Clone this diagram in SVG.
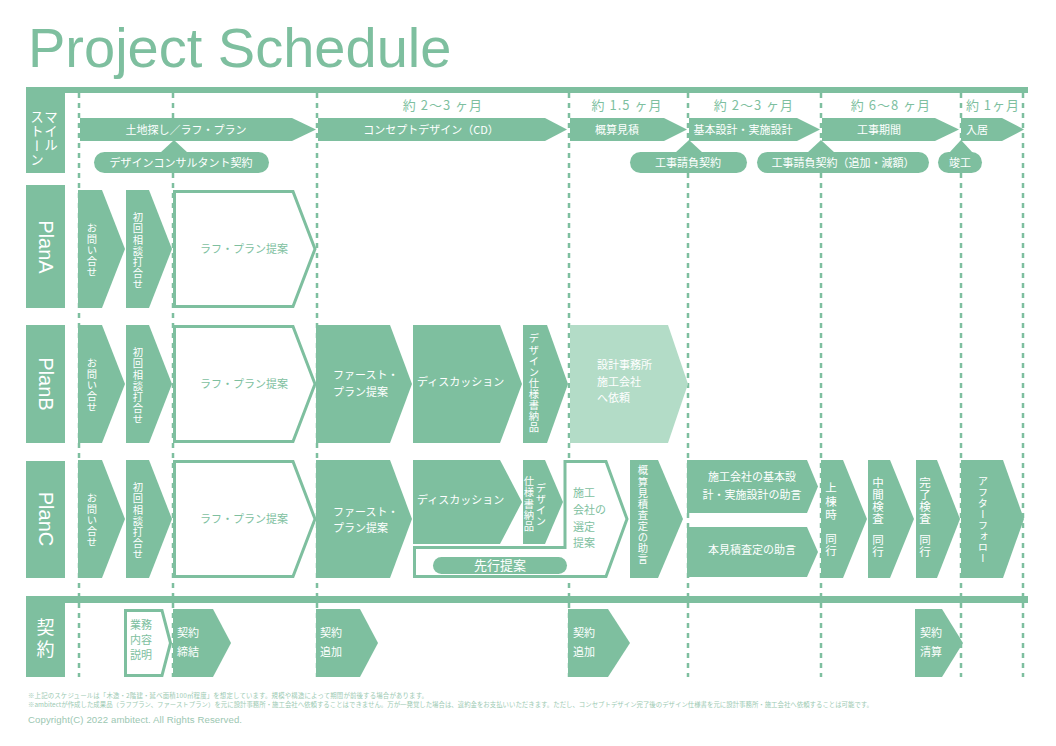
<svg xmlns="http://www.w3.org/2000/svg" width="1056" height="746" viewBox="0 0 1056 746">
<style>
.g{fill:#7ebf9f}
.l{fill:#b3dcc7}
.o{fill:#fff;stroke:#7ebf9f;stroke-width:3}
.d{stroke:#7ebf9f;stroke-width:2.5;stroke-dasharray:5 5;fill:none}
text{font-family:"Noto Sans CJK JP","Noto Sans CJK SC",sans-serif;font-size:11px}
.w{fill:#fff}
.t{fill:#7ebf9f}
.c{text-anchor:middle}
.v{writing-mode:vertical-rl;text-anchor:middle;font-size:10.3px}
.vb{writing-mode:vertical-rl;text-anchor:middle;font-size:11.5px}
.h{fill:#7ebf9f;font-size:13px;letter-spacing:1px;text-anchor:middle}
.lat{font-family:"Liberation Sans",Arial,sans-serif;font-size:20px;fill:#fff;text-anchor:middle;dominant-baseline:central}
.f{fill:#9ccab3;font-size:6.4px}
</style>
<rect width="1056" height="746" fill="#fff"/>
<text x="28" y="67" style="font-family:'Liberation Sans',Arial,sans-serif;font-size:56px" class="t">Project Schedule</text>

<g id="connectors">
<line class="d" x1="79" y1="93" x2="79" y2="677"/>
<line class="d" x1="173" y1="93" x2="173" y2="677"/>
<line class="d" x1="317" y1="93" x2="317" y2="677"/>
<line class="d" x1="569" y1="93" x2="569" y2="677"/>
<line class="d" x1="688" y1="93" x2="688" y2="677"/>
<line class="d" x1="821" y1="93" x2="821" y2="677"/>
<line class="d" x1="961" y1="93" x2="961" y2="677"/>
<line class="d" x1="1023" y1="93" x2="1023" y2="677"/>
</g>

<g id="frame">
<rect class="g" x="26" y="87" width="1002" height="6"/>
<rect class="g" x="26" y="596" width="1002" height="7"/>
</g>

<g id="label-milestone">
<rect class="g" x="26" y="87" width="39" height="86"/>
<text class="vb w" x="51" y="117 131 145" style="font-size:13.5px">マイル</text>
<text class="vb w" x="37" y="117 131 146 160" style="font-size:13.5px">ストーン</text>
</g>
<g id="label-planA"><rect class="g" x="26" y="185" width="39" height="123"/><text class="lat" transform="translate(45.5,247) rotate(90)">PlanA</text></g>
<g id="label-planB"><rect class="g" x="26" y="325" width="39" height="118"/><text class="lat" transform="translate(45.5,384) rotate(90)">PlanB</text></g>
<g id="label-planC"><rect class="g" x="26" y="461" width="39" height="117"/><text class="lat" transform="translate(45.5,519) rotate(90)">PlanC</text></g>
<g id="label-contract"><rect class="g" x="26" y="596" width="39" height="81"/><text class="vb w" x="45.5" y="627 649" style="font-size:18px">契約</text></g>

<g id="durations">
<text class="h" x="443" y="110">約 2〜3 ヶ月</text>
<text class="h" x="627" y="110">約 1.5 ヶ月</text>
<text class="h" x="754" y="110">約 2〜3 ヶ月</text>
<text class="h" x="891" y="110">約 6〜8 ヶ月</text>
<text class="h" x="993" y="110">約 1ヶ月</text>
</g>

<g id="ms-1"><path class="g" d="M80,118H292L316,129.5L292,141H80Z"/><text class="w c" x="186" y="133.5">土地探し／ラフ・プラン</text></g>
<g id="ms-2"><path class="g" d="M318,118H545L567,129.5L545,141H318Z"/><text class="w c" x="431" y="133.5">コンセプトデザイン（CD）</text></g>
<g id="ms-3"><path class="g" d="M570,118H664L687,129.5L664,141H570Z"/><text class="w c" x="617" y="133.5">概算見積</text></g>
<g id="ms-4"><path class="g" d="M689,118H797L820,129.5L797,141H689Z"/><text class="w c" x="743" y="133.5">基本設計・実施設計</text></g>
<g id="ms-5"><path class="g" d="M822,118H935L959,129.5L935,141H822Z"/><text class="w c" x="879" y="133.5">工事期間</text></g>
<g id="ms-6"><path class="g" d="M961,118H1002L1024,129.5L1002,141H961Z"/><text class="w c" x="977" y="133.5">入居</text></g>

<g id="pill-1"><path class="g" d="M160,153L174,140L188,153Z"/><rect class="g" x="94" y="152" width="175" height="21" rx="10.5"/><text class="w c" x="181" y="166.5">デザインコンサルタント契約</text></g>
<g id="pill-2"><path class="g" d="M675,153L689,140L703,153Z"/><rect class="g" x="630" y="152" width="117" height="21" rx="10.5"/><text class="w c" x="688" y="166.5">工事請負契約</text></g>
<g id="pill-3"><path class="g" d="M807,153L821,140L835,153Z"/><rect class="g" x="757" y="152" width="172" height="21" rx="10.5"/><text class="w c" x="843" y="166.5">工事請負契約（追加・減額）</text></g>
<g id="pill-4"><path class="g" d="M949,153L961,140L973,153Z"/><rect class="g" x="938" y="152" width="44" height="21" rx="10.5"/><text class="w c" x="960" y="166.5">竣工</text></g>

<!-- Plan A -->
<g id="a-1"><path class="g" d="M78,190H102L125,249L102,308H78Z"/><text class="v w" x="92" y="228.5 239.5 250.5 261.5 272.5">お問い合せ</text></g>
<g id="a-2"><path class="g" d="M126,190H149L172,249L149,308H126Z"/><text class="v w" x="138" y="217.5 228.5 240 251 262 273.5 284.5">初回相談打合せ</text></g>
<g id="a-3"><path class="o" d="M174.5,191.5H293L315,249L293,306.5H174.5Z"/><text class="t c" x="244" y="253">ラフ・プラン提案</text></g>

<!-- Plan B -->
<g id="b-1"><path class="g" d="M78,325H102L125,384L102,443H78Z"/><text class="v w" x="92" y="363.5 374.5 385.5 396.5 407.5">お問い合せ</text></g>
<g id="b-2"><path class="g" d="M126,325H149L172,384L149,443H126Z"/><text class="v w" x="138" y="352.5 363.5 375 386 397 408.5 419.5">初回相談打合せ</text></g>
<g id="b-3"><path class="o" d="M174.5,326.5H293L315,384L293,441.5H174.5Z"/><text class="t c" x="244" y="388">ラフ・プラン提案</text></g>
<g id="b-4"><path class="g" d="M316,325H390L412,384L390,443H316Z"/><text class="w" x="333" y="379">ファースト・</text><text class="w" x="333" y="396">プラン提案</text></g>
<g id="b-5"><path class="g" d="M413,325H500L522,384L500,443H413Z"/><text class="w" x="417" y="386">ディスカッション</text></g>
<g id="b-6"><path class="g" d="M523,325H547L568,384L547,443H523Z"/><text class="v w" x="534" y="338.5 349.6 360.7 371.8 382.9 394 405.1 416.2 427.3">デザイン仕様書納品</text></g>
<g id="b-7"><path class="l" d="M570,325H668L688,384L668,443H570Z"/><text class="w" x="597" y="369">設計事務所</text><text class="w" x="597" y="386">施工会社</text><text class="w" x="597" y="402">へ依頼</text></g>

<!-- Plan C -->
<g id="c-1"><path class="g" d="M78,460H102L125,519L102,578H78Z"/><text class="v w" x="92" y="498.5 509.5 520.5 531.5 542.5">お問い合せ</text></g>
<g id="c-2"><path class="g" d="M126,460H149L172,519L149,578H126Z"/><text class="v w" x="138" y="487.5 498.5 510 521 532 543.5 554.5">初回相談打合せ</text></g>
<g id="c-3"><path class="o" d="M174.5,461.5H293L315,519L293,576.5H174.5Z"/><text class="t c" x="244" y="523">ラフ・プラン提案</text></g>
<g id="c-4"><path class="g" d="M316,460H390L412,519L390,578H316Z"/><text class="w" x="333" y="516">ファースト・</text><text class="w" x="333" y="532">プラン提案</text></g>
<g id="c-5"><path class="g" d="M413,460H500L522,502L500,544H413Z"/><text class="w" x="417" y="504">ディスカッション</text></g>
<g id="c-6"><path class="g" d="M523,460H545L563,502L545,544H523Z"/><text class="v w" x="541" y="488.5 499.5 510.5 521.5">デザイン</text><text class="v w" x="529" y="481.5 492.5 504 515 526.5">仕様書納品</text></g>
<g id="c-7"><path class="o" d="M414.5,547.5H565V461.5H606L627,519L606,576.5H414.5Z"/><text class="t" x="573" y="497">施工</text><text class="t" x="573" y="514">会社の</text><text class="t" x="573" y="531">選定</text><text class="t" x="573" y="547">提案</text></g>
<g id="c-8"><rect class="g" x="433" y="557" width="134" height="17" rx="8.5"/><text class="w c" x="500" y="570" style="font-size:13px">先行提案</text></g>
<g id="c-9"><path class="g" d="M630,460H658L683,519L658,578H630Z"/><text class="v w" x="643" y="470.5 481.6 492.7 503.8 514.9 526 537.1 548.2 559.3">概算見積査定の助言</text></g>
<g id="c-10"><path class="g" d="M687,460H807L818,486.5L807,513H687Z"/><text class="w c" x="752" y="481">施工会社の基本設</text><text class="w c" x="752" y="499">計・実施設計の助言</text></g>
<g id="c-11"><path class="g" d="M687,527H807L818,552L807,577H687Z"/><text class="w c" x="752" y="554">本見積査定の助言</text></g>
<g id="c-12"><path class="g" d="M821,460H843L867,519L843,578H821Z"/><text class="vb w" x="831" y="488 502 515 527 539 551">上棟時　同行</text></g>
<g id="c-13"><path class="g" d="M868,460H890L914,519L890,578H868Z"/><text class="vb w" x="878" y="483 495 507 519 529 540 552">中間検査　同行</text></g>
<g id="c-14"><path class="g" d="M916,460H937L960,519L937,578H916Z"/><text class="vb w" x="925" y="483 495 507 519 529 540 552">完了検査　同行</text></g>
<g id="c-15"><path class="g" d="M961,460H1003L1024,519L1003,578H961Z"/><text class="v w" x="983" y="481 492 503 514 525 536 547 558">アフターフォロー</text></g>

<!-- Contract -->
<g id="k-1"><path class="o" d="M125.5,610.5H162L170.5,643L162,675.5H125.5Z"/><text class="t c" x="141" y="629">業務</text><text class="t c" x="141" y="644">内容</text><text class="t c" x="141" y="659">説明</text></g>
<g id="k-2"><path class="g" d="M173,609H213L231,643L213,677H173Z"/><text class="w" x="177" y="637">契約</text><text class="w" x="177" y="656">締結</text></g>
<g id="k-3"><path class="g" d="M316,609H360L378,643L360,677H316Z"/><text class="w" x="320" y="637">契約</text><text class="w" x="320" y="656">追加</text></g>
<g id="k-4"><path class="g" d="M568,609H608L630,643L608,677H568Z"/><text class="w" x="573" y="637">契約</text><text class="w" x="573" y="656">追加</text></g>
<g id="k-5"><path class="g" d="M915,609H942L963,643L942,677H915Z"/><text class="w" x="920" y="637">契約</text><text class="w" x="920" y="656">清算</text></g>

<g id="footer">
<text class="f" x="28" y="697.5" textLength="400">※上記のスケジュールは「木造・2階建・延べ面積100㎡程度」を想定しています。規模や構造によって期間が前後する場合があります。</text>
<text class="f" x="28" y="706.5" textLength="845">※ambitectが作成した成果品（ラフプラン、ファーストプラン）を元に設計事務所・施工会社へ依頼することはできません。万が一発覚した場合は、違約金をお支払いいただきます。ただし、コンセプトデザイン完了後のデザイン仕様書を元に設計事務所・施工会社へ依頼することは可能です。</text>
<text x="28" y="723" style="font-family:'Liberation Sans',Arial,sans-serif;font-size:9.6px;fill:#9cc7b2" textLength="214">Copyright(C) 2022 ambitect. All Rights Reserved.</text>
</g>
</svg>
